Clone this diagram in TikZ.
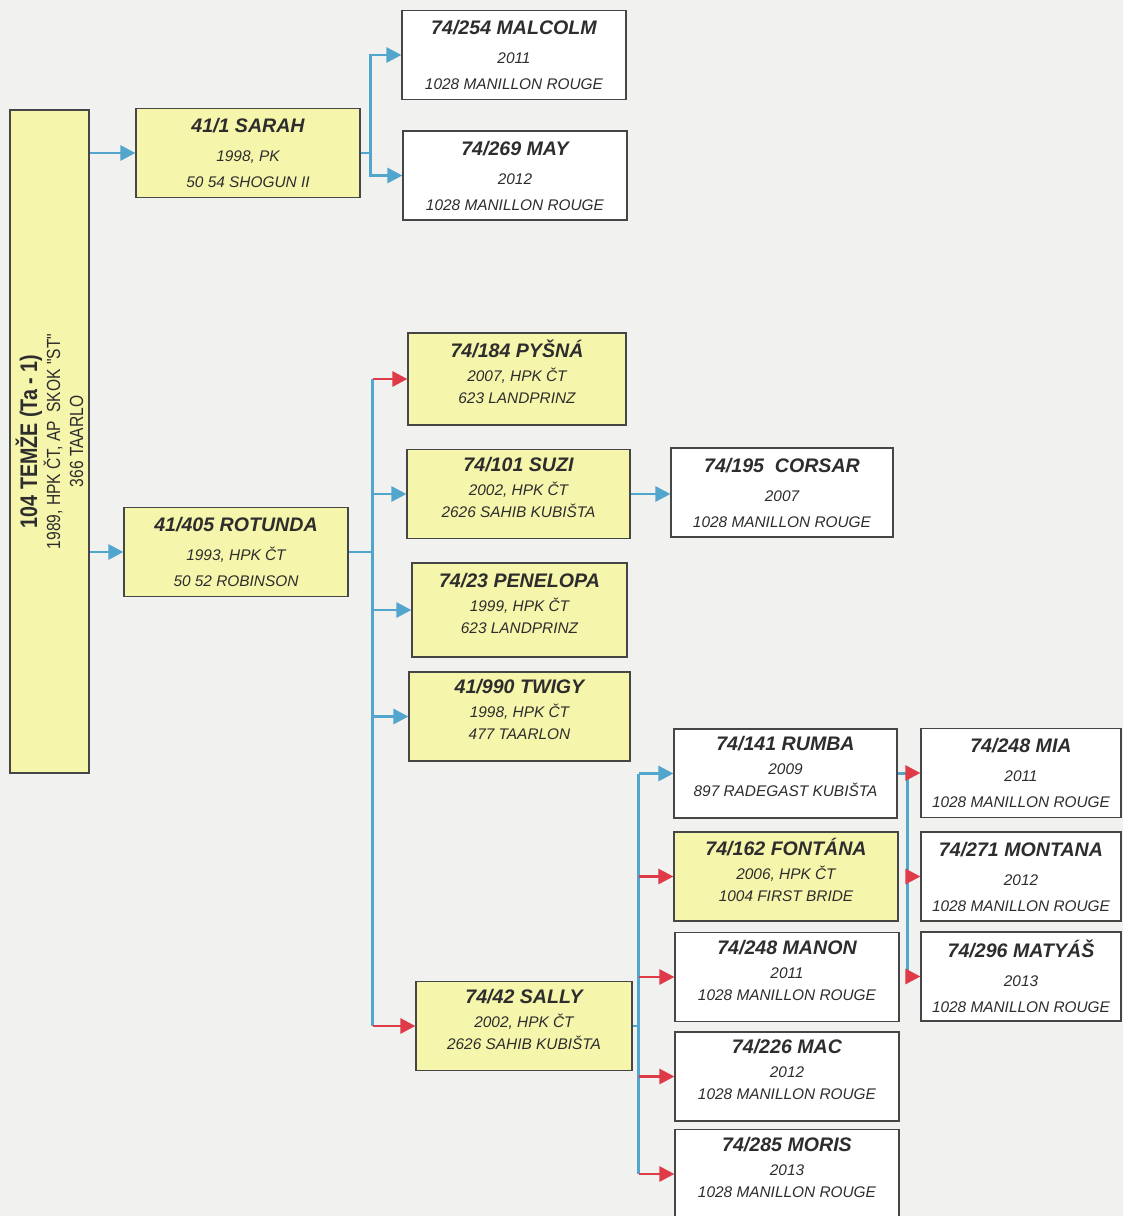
\documentclass[tikz,border=0pt]{standalone}
\usepackage{fontspec}
\setmainfont{Liberation Sans}
\newfontfamily\narrowfont{Liberation Sans}[FakeStretch=0.82]
\usetikzlibrary{arrows.meta,calc}
\definecolor{paper}{RGB}{241,241,239}
\definecolor{frame}{RGB}{70,70,70}
\definecolor{ink}{RGB}{45,45,45}
\definecolor{mareyellow}{RGB}{246,245,172}
\definecolor{linkblue}{RGB}{82,165,205}
\definecolor{linkred}{RGB}{222,58,72}
\newcommand{\horsename}{\fontsize{9.8}{12}\selectfont\bfseries}
\newcommand{\horse}[3]{{\horsename #1}\\[1pt]#2\\#3\\[-4pt]\mbox{}}
\newcommand{\horsewide}[3]{{\horsename #1}\\[3.5pt]#2\\[2pt]#3}

\begin{document}
\begin{tikzpicture}[x=0.5pt,y=-0.5pt,>={Triangle[length=7.5pt,width=7.5pt]},
  every node/.style={draw=frame,line width=0.6pt,inner sep=0pt,align=center,text=ink,
    font=\fontsize{7.7}{11}\selectfont\itshape,minimum width=112pt,minimum height=44.5pt},
  mare/.style={fill=mareyellow},
  stallion/.style={fill=white},
  blue link/.style={draw=linkblue,line width=1.4pt},
  red link/.style={draw=linkred,line width=1.4pt}]
  \fill[paper] (0,0) rectangle (1123,1216);
  \useasboundingbox (0,0) rectangle (1123,1216);

  % founder mare, set on its side
  \node[mare,rotate=90,minimum width=331.5pt,minimum height=39.5pt,
    font=\narrowfont\fontsize{9.5}{11.5}\selectfont] (temze) at (49.5,441.5)
    {{\fontsize{12}{14}\selectfont\bfseries 104 TEMŽE (Ta - 1)}\\
     1989, HPK ČT, AP\ \ SKOK "ST"\\366 TAARLO};

  % daughters
  \node[mare] (sarah) at (248,153) {\horsewide{41/1 SARAH}{1998, PK}{50 54 SHOGUN II}};
  \node[mare] (rotunda) at (236,552) {\horsewide{41/405 ROTUNDA}{1993, HPK ČT}{50 52 ROBINSON}};

  % granddaughters and grandsons
  \node[stallion] (malcolm) at (514,55) {\horsewide{74/254 MALCOLM}{2011}{1028 MANILLON ROUGE}};
  \node[stallion] (may) at (515,175.5) {\horsewide{74/269 MAY}{2012}{1028 MANILLON ROUGE}};
  \node[mare,minimum width=109pt,minimum height=46pt] (pysna) at (517,379) {\horse{74/184 PYŠNÁ}{2007, HPK ČT}{623 LANDPRINZ}};
  \node[mare,minimum width=111.5pt] (suzi) at (518.5,494) {\horse{74/101 SUZI}{2002, HPK ČT}{2626 SAHIB KUBIŠTA}};
  \node[mare,minimum width=107.5pt,minimum height=47pt] (penelopa) at (519.5,610) {\horse{74/23 PENELOPA}{1999, HPK ČT}{623 LANDPRINZ}};
  \node[mare,minimum width=110.5pt] (twigy) at (519.5,716.5) {\horse{41/990 TWIGY}{1998, HPK ČT}{477 TAARLON}};
  \node[mare,minimum width=108pt] (sally) at (524,1026) {\horse{74/42 SALLY}{2002, HPK ČT}{2626 SAHIB KUBIŠTA}};
  \node[stallion,minimum width=111pt] (corsar) at (782,492.5) {\horsewide{74/195\ \ CORSAR}{2007}{1028 MANILLON ROUGE}};

  % great-grandchildren
  \node[stallion,minimum width=111.5pt] (rumba) at (785.5,773.5) {\horse{74/141 RUMBA}{2009}{897 RADEGAST KUBIŠTA}};
  \node[mare] (fontana) at (786,876.5) {\horse{74/162 FONTÁNA}{2006, HPK ČT}{1004 FIRST BRIDE}};
  \node[stallion] (manon) at (787,977) {\horse{74/248 MANON}{2011}{1028 MANILLON ROUGE}};
  \node[stallion] (mac) at (787,1076.5) {\horse{74/226 MAC}{2012}{1028 MANILLON ROUGE}};
  \node[stallion] (moris) at (787,1174) {\horse{74/285 MORIS}{2013}{1028 MANILLON ROUGE}};
  \node[stallion,minimum width=100pt] (mia) at (1021,773) {\horsewide{74/248 MIA}{2011}{1028 MANILLON ROUGE}};
  \node[stallion,minimum width=100pt] (montana) at (1021,876.5) {\horsewide{74/271 MONTANA}{2012}{1028 MANILLON ROUGE}};
  \node[stallion,minimum width=100pt] (matyas) at (1021,976.5) {\horsewide{74/296 MATYÁŠ}{2013}{1028 MANILLON ROUGE}};

  % links
  \draw[blue link,->] (temze.south |- sarah.west) -- (sarah.west);
  \draw[blue link,->] (temze.south |- rotunda.west) -- (rotunda.west);

  \draw[blue link] (sarah.east) -- ++(10,0) coordinate (sj);
  \draw[blue link,->] (sj) |- (malcolm.west);
  \draw[blue link,->] (sj) |- (may.west);

  \draw[blue link] (rotunda.east) -- ++(24,0) coordinate (rj);
  \draw[blue link] (rj |- pysna.west) -- (rj |- sally.west);
  \draw[red link,->] (rj |- pysna.west) -- (pysna.west);
  \foreach \n in {suzi,penelopa,twigy}
    \draw[blue link,->] (rj |- \n.west) -- (\n.west);
  \draw[red link,->] (rj |- sally.west) -- (sally.west);
  \draw[blue link,->] (suzi.east) -- (suzi.east -| corsar.west);

  \draw[blue link] (sally.east) -- ++(6,0) coordinate (lj);
  \draw[blue link] (lj |- rumba.west) -- (lj |- moris.west);
  \draw[blue link,->] (lj |- rumba.west) -- (rumba.west);
  \foreach \n in {fontana,manon,mac,moris}
    \draw[red link,->] (lj |- \n.west) -- (\n.west);

  \draw[blue link] (rumba.east) -- ++(10,0) coordinate (uj);
  \draw[blue link] (uj) -- (uj |- matyas.west);
  \foreach \n in {mia,montana,matyas}
    \draw[red link,->] (uj |- \n.west) -- (\n.west);
\end{tikzpicture}
\end{document}
